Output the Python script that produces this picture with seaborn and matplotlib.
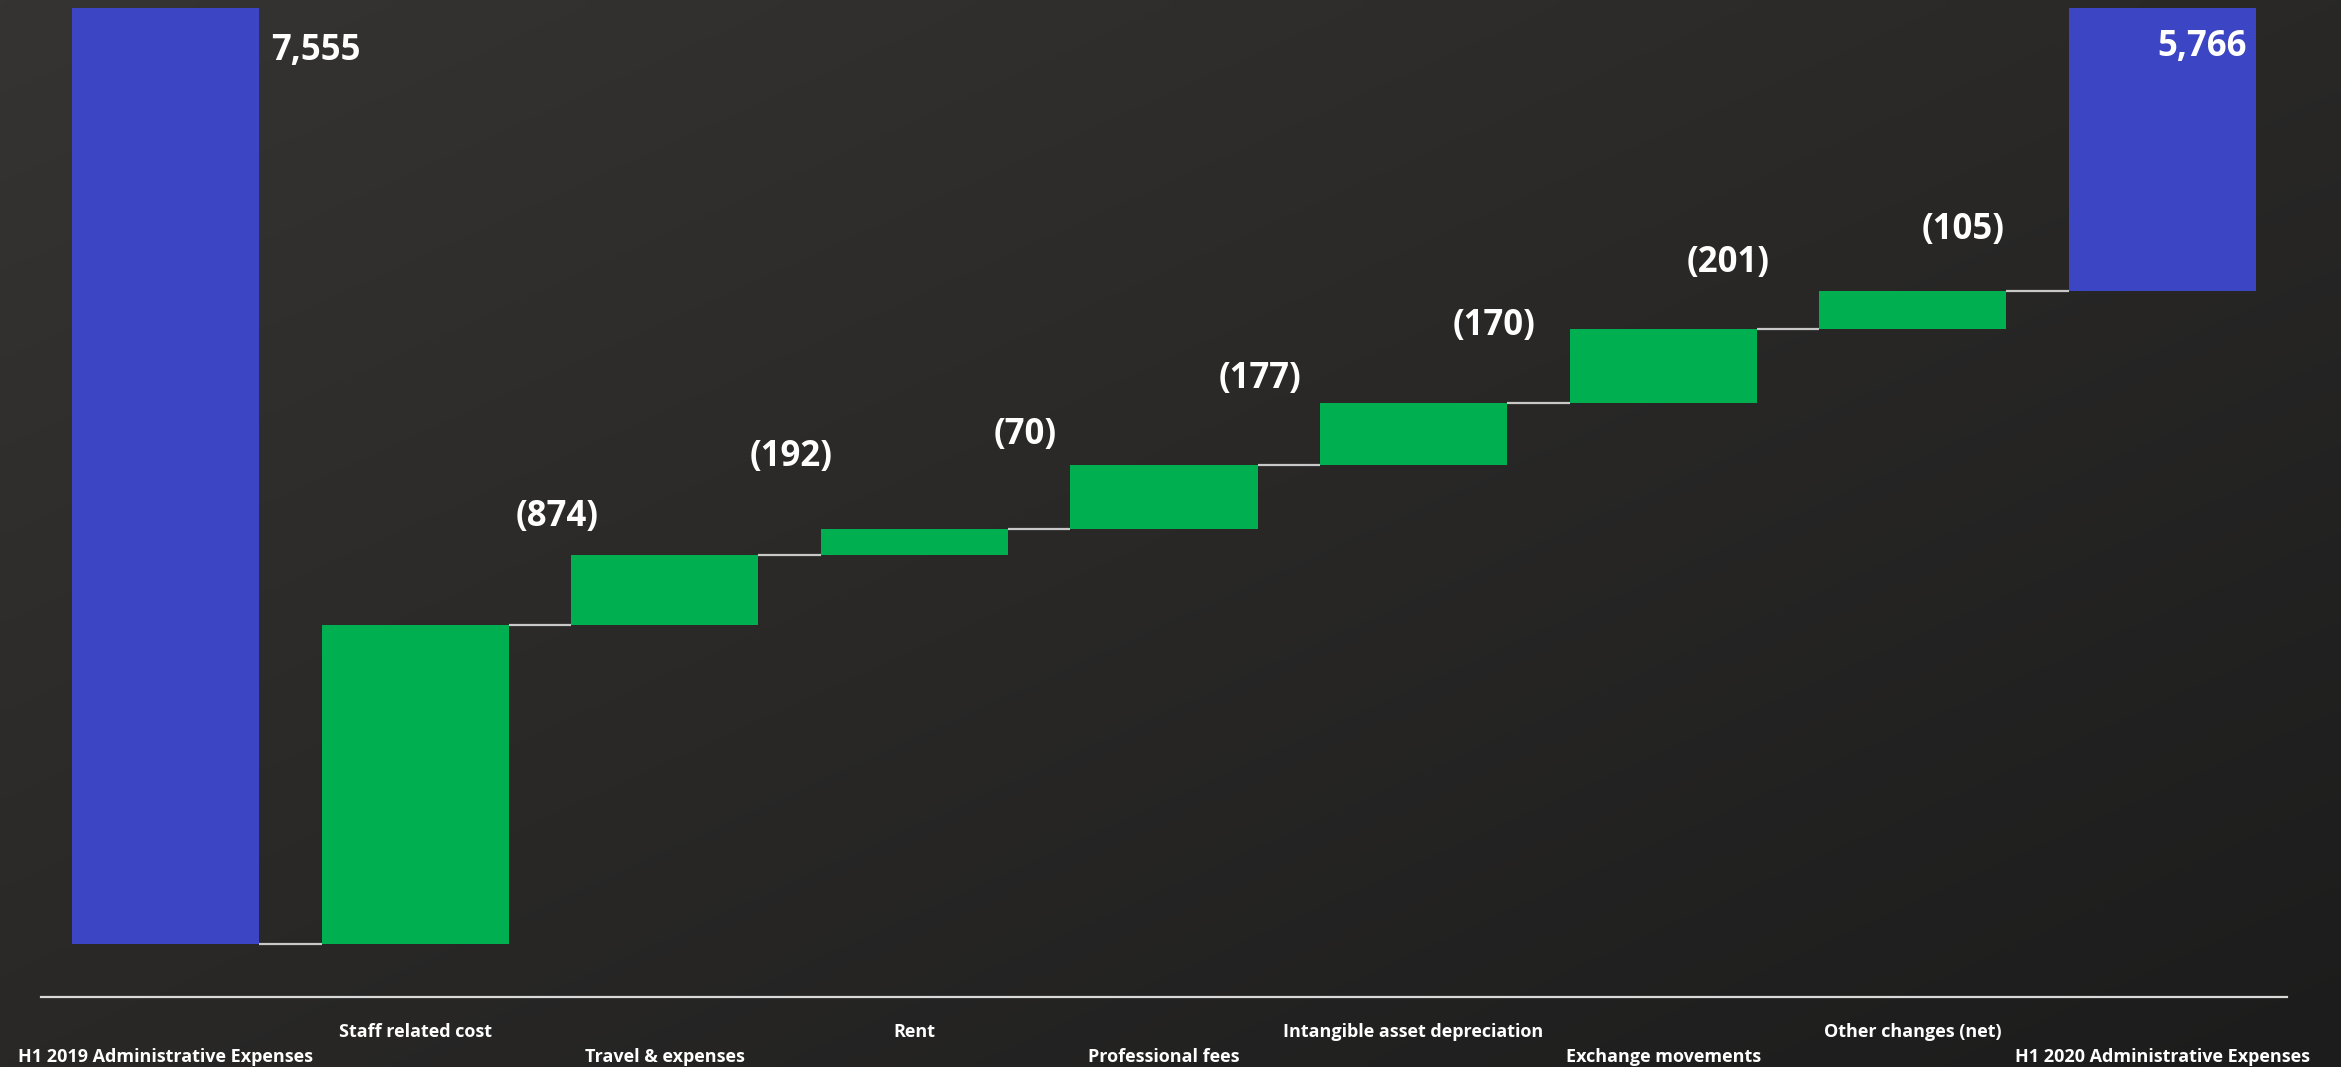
import numpy as np
import pandas as pd
import matplotlib
matplotlib.use("Agg")
import matplotlib.pyplot as plt
import matplotlib.transforms as mtransforms
import seaborn as sns

# ---- data -------------------------------------------------------------
categories = [
    "H1 2019 Administrative Expenses",
    "Staff related cost",
    "Travel & expenses",
    "Rent",
    "Professional fees",
    "Intangible asset depreciation",
    "Exchange movements",
    "Other changes (net)",
    "H1 2020 Administrative Expenses",
]
opening_total = 7555
closing_total = 5766
step_changes = [874, 192, 70, 177, 170, 201, 105]  # reductions, shown in brackets

# ---- style ------------------------------------------------------------
sns.set_theme(style="white")
plt.rcParams["font.family"] = ["Open Sans", "DejaVu Sans"]
plt.rcParams["font.weight"] = "bold"

BLUE = "#3c46c4"
GREEN = "#00b050"
LINE = "#c8c8c8"
TEXT = "#ffffff"

# running level after each bar: 7555, 6681, ..., 5766
levels = opening_total - np.concatenate([[0], np.cumsum(step_changes)])
step_bottoms = levels[1:]

totals_df = pd.DataFrame({"category": [categories[0], categories[-1]],
                          "value": [opening_total, closing_total]})
steps_df = pd.DataFrame({"category": categories[1:-1], "value": step_changes})

fig = plt.figure(figsize=(23.41, 10.67), dpi=100)

# diagonal dark gradient backdrop
bg = fig.add_axes([0, 0, 1, 1], zorder=-10)
gx, gy = np.meshgrid(np.linspace(0, 1, 256), np.linspace(0, 1, 128))
t = (gx + gy) / 2
c0 = np.array([54, 52, 50]) / 255
c1 = np.array([28, 28, 28]) / 255
grad = c0[None, None, :] * (1 - t[..., None]) + c1[None, None, :] * t[..., None]
bg.imshow(grad, aspect="auto", extent=[0, 1, 0, 1], origin="upper", interpolation="bilinear")
bg.set_axis_off()

rect = [0.01739, 0.0653, 0.95961, 0.9272]
ax = fig.add_axes(rect)
ax.set_facecolor("none")

sns.barplot(data=totals_df, x="category", y="value", order=categories,
            color=BLUE, saturation=1, width=0.75, errorbar=None,
            linewidth=0, ax=ax)
sns.barplot(data=steps_df, x="category", y="value", order=categories,
            color=GREEN, saturation=1, width=0.75, errorbar=None,
            linewidth=0, bottom=step_bottoms, ax=ax)

ax.set_xlim(-0.5, len(categories) - 0.5)
ax.set_ylim(7702, 4990)  # reversed value axis, cut above the bars

# connectors between consecutive bars
half = 0.75 / 2
for i in range(len(categories) - 1):
    ax.hlines(levels[i], i + half, i + 1 - half, color=LINE, lw=1.6, zorder=3)

for side in ["top", "left", "right"]:
    ax.spines[side].set_visible(False)
ax.spines["bottom"].set_color("#d9d9d9")
ax.spines["bottom"].set_linewidth(1.6)
ax.set_yticks([])
ax.set_xticks(range(len(categories)))
ax.set_xticklabels([])
ax.tick_params(axis="x", length=0)
ax.set_xlabel("")
ax.set_ylabel("")

# staggered category labels
trans = mtransforms.blended_transform_factory(ax.transData, ax.transAxes)
for i, name in enumerate(categories):
    y = -0.0608 if i % 2 == 0 else -0.0346
    ax.text(i, y, name, transform=trans, ha="center", va="center",
            color=TEXT, fontsize=13, fontweight="bold")

# totals labels
ax.annotate(f"{opening_total:,}", xy=(0 + half, 0.957), xycoords=trans,
            xytext=(8.6, 0), textcoords="offset points", ha="left", va="center",
            color=TEXT, fontsize=25, fontweight="bold")
ax.annotate(f"{closing_total:,}", xy=(len(categories) - 1 + half, 0.9605), xycoords=trans,
            xytext=(-6.5, 0), textcoords="offset points", ha="right", va="center",
            color=TEXT, fontsize=25, fontweight="bold")

# change labels sit on a secondary scale over the same area
ax2 = fig.add_axes(rect)
ax2.set_facecolor("none")
ax2.set_xlim(-1.203, 8.385)
ax2.set_ylim(8216, 5070)
ax2.set_axis_off()
for k, change in enumerate(step_changes, start=1):
    ax2.annotate(f"({change:,})", xy=(k, levels[k]), xytext=(0, -2),
                 textcoords="offset points", ha="center", va="center",
                 color=TEXT, fontsize=25, fontweight="bold")

fig.savefig("out.png", dpi=100)
